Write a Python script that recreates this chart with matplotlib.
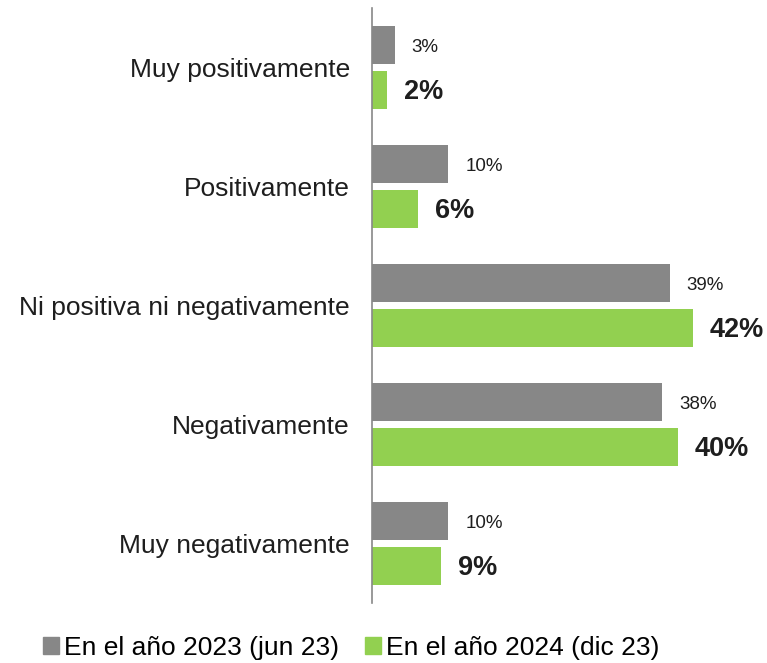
import matplotlib.pyplot as plt
from matplotlib.patches import Patch

plt.rcParams['font.family'] = ['Liberation Sans', 'DejaVu Sans']

categorias = ['Muy positivamente', 'Positivamente', 'Ni positiva ni negativamente',
              'Negativamente', 'Muy negativamente']
val_2023 = [3, 10, 39, 38, 10]
val_2024 = [2, 6, 42, 40, 9]
series = ['En el año 2023 (jun 23)', 'En el año 2024 (dic 23)']

gris = '#878787'
verde = '#92D050'

fig = plt.figure(figsize=(7.67, 6.63), dpi=100)
ax = fig.add_axes([372 / 767, 1 - 603 / 663, 1 - 372 / 767, 595 / 663])

y = list(range(len(categorias)))
h = 0.32
off = 0.19
y1 = [i - off for i in y]
y2 = [i + off for i in y]
ax.barh(y1, val_2023, height=h, color=gris)
ax.barh(y2, val_2024, height=h, color=verde)

for yy, v in zip(y1, val_2023):
    ax.text(v + 2.2, yy + 0.02, f'{v}%', va='center', ha='left', fontsize=13.5, color='#1e1e1e')
for yy, v in zip(y2, val_2024):
    ax.text(v + 2.2, yy + 0.015, f'{v}%', va='center', ha='left', fontsize=19.5,
            fontweight='bold', color='#1e1e1e')

ax.set_ylim(len(categorias) - 0.5, -0.5)
ax.set_xlim(0, 395 / 7.64)
ax.set_yticks(y)
ax.set_yticklabels(categorias, fontsize=19, color='#1e1e1e')
ax.tick_params(axis='y', length=0, pad=16)
ax.set_xticks([])
for s in ['top', 'right', 'bottom']:
    ax.spines[s].set_visible(False)
ax.spines['left'].set_color('#888888')
ax.spines['left'].set_linewidth(1.2)

handles = [Patch(color=gris), Patch(color=verde)]
fig.legend(handles, series, loc='center', bbox_to_anchor=(0.458, 1 - 648 / 663),
           ncol=2, frameon=False, fontsize=19, handlelength=0.6, handleheight=0.6,
           handletextpad=0.2, columnspacing=1.0)

fig.savefig('out.png', dpi=100)
